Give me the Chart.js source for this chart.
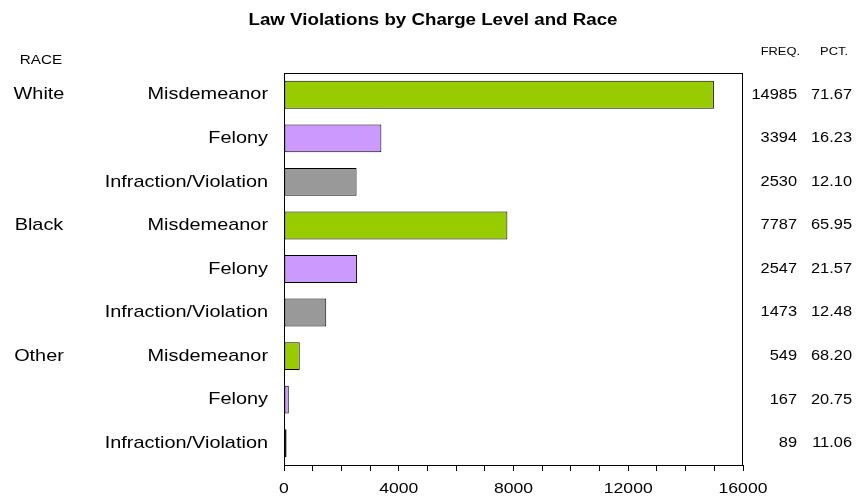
<!DOCTYPE html>
<html>
<head>
<meta charset="utf-8">
<script src="https://cdn.jsdelivr.net/npm/chart.js@4/dist/chart.umd.min.js"></script>
<style>
  html, body { margin: 0; padding: 0; background: #fff; }
  #wrap { width: 866px; height: 500px; }
</style>
</head>
<body>
<div id="wrap"><canvas id="chart" width="866" height="500"></canvas></div>
<script>
const races = ['White', '', '', 'Black', '', '', 'Other', '', ''];
const charges = ['Misdemeanor', 'Felony', 'Infraction/Violation',
  'Misdemeanor', 'Felony', 'Infraction/Violation',
  'Misdemeanor', 'Felony', 'Infraction/Violation'];
const freq = [14985, 3394, 2530, 7787, 2547, 1473, 549, 167, 89];
const pct = ['71.67', '16.23', '12.10', '65.95', '21.57', '12.48', '68.20', '20.75', '11.06'];
const xTicks = [0, 4000, 8000, 12000, 16000];
const chargeColors = {
  'Misdemeanor': '#99cc00',
  'Felony': '#cc99ff',
  'Infraction/Violation': '#999999',
};

const FONT = "'Liberation Sans', Arial, sans-serif";
const SX = 1.17; // the reference text is a bit wider than Arial

function wideText(ctx, txt, x, y, align) {
  ctx.save();
  ctx.translate(x, y);
  ctx.scale(SX, 1);
  ctx.textAlign = align;
  ctx.fillText(txt, 0, 0);
  ctx.restore();
}

// all texts, plus the box round the plot
const textLayer = {
  id: 'textLayer',
  afterDraw(chart) {
    const { ctx, chartArea, scales } = chart;
    const x = scales.x, y = scales.y;
    ctx.save();
    ctx.strokeStyle = '#000';
    ctx.lineWidth = 1;
    ctx.strokeRect(chartArea.left + 0.5, chartArea.top + 0.5,
      chartArea.right - chartArea.left - 1, chartArea.bottom - chartArea.top);

    ctx.fillStyle = '#000';
    ctx.textBaseline = 'middle';

    ctx.font = 'bold 16px ' + FONT;
    wideText(ctx, 'Law Violations by Charge Level and Race', 433, 21, 'center');

    ctx.font = '13px ' + FONT;
    wideText(ctx, 'RACE', 41, 60, 'center');
    ctx.font = '11px ' + FONT;
    wideText(ctx, 'FREQ.', 800, 52, 'right');
    wideText(ctx, 'PCT.', 848, 52, 'right');

    ctx.font = '17px ' + FONT;
    charges.forEach((c, i) => {
      const py = y.getPixelForValue(i);
      wideText(ctx, c, 268, py, 'right');
      if (races[i]) wideText(ctx, races[i], 39, py, 'center');
    });

    ctx.font = '14px ' + FONT;
    freq.forEach((f, i) => {
      const py = y.getPixelForValue(i);
      wideText(ctx, String(f), 797, py, 'right');
      wideText(ctx, pct[i], 852, py, 'right');
    });

    ctx.font = '15px ' + FONT;
    xTicks.forEach(v => {
      wideText(ctx, String(v), x.getPixelForValue(v), chartArea.bottom + 24, 'center');
    });
    ctx.restore();
  },
};

new Chart(document.getElementById('chart'), {
  type: 'bar',
  data: {
    labels: charges,
    datasets: [{
      data: freq,
      backgroundColor: charges.map(c => chargeColors[c]),
      borderColor: '#000',
      borderWidth: 1,
      borderSkipped: false,
      categoryPercentage: 1,
      barPercentage: 0.64,
    }],
  },
  options: {
    indexAxis: 'y',
    responsive: false,
    animation: false,
    layout: { padding: { left: 0, right: 123, top: 73, bottom: 0 } },
    plugins: {
      legend: { display: false },
      tooltip: { enabled: false },
    },
    scales: {
      x: {
        min: 0,
        max: 16000,
        afterFit(scale) { scale.height = 35; },
        ticks: {
          stepSize: 1000,
          autoSkip: false,
          display: false,
        },
        grid: {
          drawOnChartArea: false,
          drawTicks: true,
          tickLength: 6,
          color: '#000',
        },
        border: { display: true, color: '#000', width: 1 },
      },
      y: {
        afterFit(scale) { scale.width = 284; },
        ticks: { display: false },
        grid: { display: false },
        border: { display: true, color: '#000', width: 1 },
      },
    },
  },
  plugins: [textLayer],
});
</script>
</body>
</html>
